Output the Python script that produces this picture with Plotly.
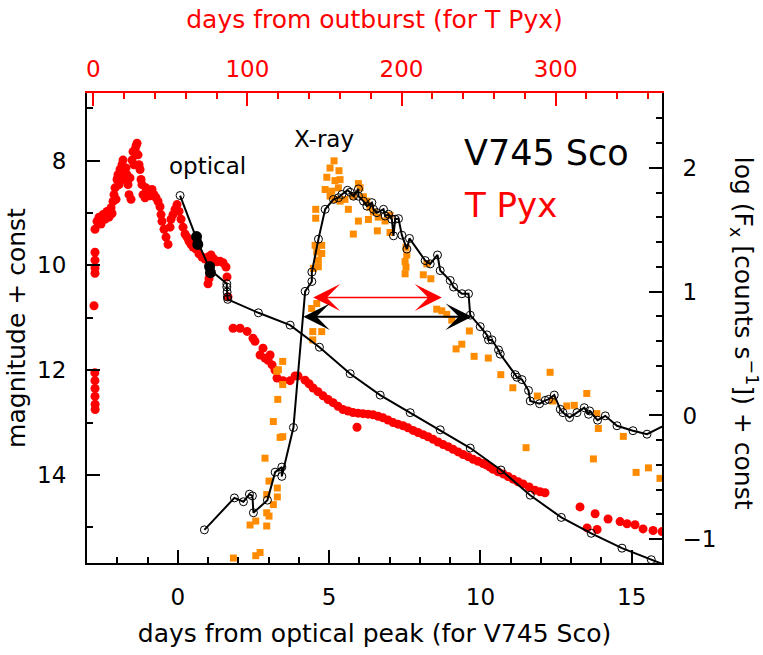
import plotly.graph_objects as go

# ---------------- data ----------------
# V745 Sco optical (days from optical peak, magnitude + const)
v745_opt_days = [0.076, 0.648, 1.068, 1.62, 1.62, 1.63, 1.64, 1.65, 2.664, 3.712, 4.681, 5.696,
                 6.688, 7.679, 8.671, 9.663, 10.678, 11.646, 12.671, 13.663, 14.678, 15.646, 16.64]
v745_opt_mag = [8.667, 9.532, 10.086, 10.351, 10.413, 10.508, 10.603, 10.648, 10.905, 11.140, 11.562,
                12.067, 12.476, 12.811, 13.138, 13.486, 13.905, 14.386, 14.810, 15.113, 15.397, 15.617, 15.84]
v745_opt_filled_days = [0.62, 0.66, 1.05, 1.08]
v745_opt_filled_mag = [9.45, 9.6, 10.02, 10.14]

# V745 Sco X-ray (days from optical peak, log Fx + const)
v745_x_days = [0.879, 1.871, 2.169, 2.367, 2.466, 2.499, 2.962, 3.217, 3.438, 3.438, 3.821, 4.208,
               4.430, 4.430, 4.648, 4.869, 5.144, 5.309, 5.421, 5.607, 5.696, 5.805, 5.970, 5.970,
               6.136, 6.248, 6.413, 6.466, 6.579, 6.797, 6.853, 6.962, 7.074, 7.127, 7.183, 7.293,
               7.405, 7.570, 7.656, 8.175, 8.341, 8.582, 8.671, 9.002, 9.111, 9.388, 9.607, 9.663,
               9.993, 10.215, 10.268, 10.380, 10.598, 10.655, 11.150, 11.207, 11.372, 11.590, 11.646,
               11.954, 12.142, 12.251, 12.440, 12.638, 12.727, 12.945, 13.190, 13.431, 13.574, 13.607,
               13.871, 14.126, 14.512, 15.041, 15.504, 16.4]
v745_x_log = [-0.924, -0.666, -0.697, -0.636, -0.650, -0.786, -0.684, -0.458, -0.417, -0.492, -0.097,
              1.003, 1.083, 1.159, 1.425, 1.666, 1.746, 1.760, 1.786, 1.820, 1.804, 1.772, 1.831, 1.772,
              1.732, 1.692, 1.720, 1.666, 1.639, 1.666, 1.612, 1.626, 1.586, 1.452, 1.586, 1.591,
              1.457, 1.345, 1.431, 1.252, 1.225, 1.297, 1.171, 1.091, 1.038, 0.984, 0.984, 0.811,
              0.718, 0.651, 0.611, 0.611, 0.530, 0.496, 0.330, 0.309, 0.290, 0.202, 0.117,
              0.095, 0.122, 0.130, 0.165, 0.050, 0.023, -0.017, 0.023, 0.063, 0.010, 0.037,
              -0.038, -0.003, -0.083, -0.123, -0.151, -0.04]

# T Pyx optical (days from outburst, magnitude + const)
tpyx_opt_days = [0.45, 1.0, 1.05, 1.1, 1.1, 1.15, 1.2, 1.1, 1.1, 1.1, 1.1,
                 1.10, 2.40, 3.70, 5.00, 6.30, 7.59, 8.89, 10.19, 11.49, 12.13, 12.78, 13.43, 14.08,
                 14.73, 15.38, 16.03, 16.68, 17.33, 17.98, 18.62, 19.27, 19.92, 20.57, 21.22, 21.87,
                 22.52, 23.17, 23.82, 24.47, 25.11, 25.76, 26.41, 27.06, 27.71, 28.36, 29.01, 29.66,
                 30.31, 30.95, 31.60, 32.25, 33.55, 34.20, 35.50, 36.79, 38.09, 39.39, 40.69, 41.99,
                 43.28, 43.93, 44.58, 45.88, 47.18, 48.48, 49.77, 50.42, 51.72, 53.02, 54.32, 55.61,
                 56.91, 58.21, 59.51, 60.80, 62.10, 63.40, 64.70, 66.65, 68.59, 70.54, 72.48, 74.43,
                 76.38, 78.33, 80.27, 82.22, 84.17, 86.11, 86.76, 74.43, 75.08, 87.41,
                 90.7, 95.2, 99.8, 103.6, 104.9, 108.2, 110.1, 111.4, 113.4, 114.7, 116.0, 117.9,
                 119.2, 123.1, 127.7, 130.9, 132.8, 137.4, 140.0, 142.6, 145.8, 149.1, 152.3, 155.6,
                 158.8, 162.0, 165.3, 168.5, 171.8, 175.0, 178.3, 181.5, 184.8, 188.0, 191.2, 194.5,
                 197.7, 201.0, 204.2, 207.5, 210.7, 214.0, 217.2, 220.5, 223.7, 227.0, 230.2, 233.4,
                 236.7, 239.9, 243.2, 246.4, 249.6, 252.9, 255.2, 257.4, 259.4, 262.6, 265.9, 269.1,
                 272.4, 275.6, 278.9, 282.8, 286.6, 289.9, 293.1, 171.1,
                 315.8, 320.4, 325.6, 326.9, 334.0, 341.8, 346.3, 351.5, 356.7, 363.2, 369.0]
tpyx_opt_mag = [10.77, 12.05, 12.2, 12.35, 12.5, 12.65, 12.75, 9.75, 9.9, 10.05, 10.15,
                9.31, 9.16, 9.08, 9.21, 9.03, 9.12, 8.97, 9.08, 8.90, 9.01, 8.78, 8.65, 8.52,
                8.74, 8.36, 8.27, 8.46, 8.17, 8.33, 8.08, 7.99, 8.17, 8.36, 8.14, 8.27,
                8.46, 8.65, 8.33, 8.74, 7.99, 7.83, 8.08, 7.79, 7.72, 7.67, 7.89, 8.08,
                8.17, 8.36, 8.46, 8.65, 8.71, 8.52, 8.59, 8.67, 8.55, 8.65, 8.71, 8.78,
                8.88, 9.03, 9.16, 9.31, 9.46, 9.60, 9.27, 9.12, 9.03, 8.93, 8.84, 8.97,
                9.12, 9.27, 9.40, 9.46, 9.54, 9.60, 9.65, 9.69, 9.78, 9.84, 9.88, 9.84,
                9.80, 9.88, 9.93, 9.92, 9.95, 10.03, 10.22, 10.35, 10.25, 10.60,
                11.20, 11.20, 11.26, 11.39, 11.45, 11.71, 11.58, 11.77, 11.81, 11.71, 11.90, 12.00,
                12.15, 12.20, 12.20, 12.11, 12.11, 12.19, 12.26, 12.34, 12.41, 12.49, 12.56, 12.62,
                12.69, 12.75, 12.78, 12.81, 12.82, 12.83, 12.84, 12.85, 12.88, 12.91, 12.95, 13.00,
                13.03, 13.06, 13.10, 13.15, 13.19, 13.23, 13.27, 13.32, 13.37, 13.42, 13.46, 13.51,
                13.56, 13.61, 13.65, 13.70, 13.74, 13.78, 13.81, 13.85, 13.89, 13.94, 13.98, 14.03,
                14.08, 14.13, 14.17, 14.23, 14.29, 14.32, 14.34, 13.09,
                14.61, 15.01, 14.74, 15.04, 14.84, 14.89, 14.93, 14.95, 15.03, 15.06, 15.08]

# T Pyx X-ray (days from outburst, log Fx + const)
tpyx_x_days = [90.9, 105.4, 108.2, 101.7, 105.4, 112.5, 112.5, 114.0, 116.8, 119.4, 112.5, 114.0,
               119.4, 111.4, 116.8, 119.7, 119.0, 121.2, 122.9, 122.9, 122.9, 120.1, 142.4, 148.2,
               142.4, 141.7, 145.0, 156.2, 153.6, 159.4, 151.5, 160.1, 156.8, 150.4, 154.7, 159.0,
               172.0, 173.1, 153.6, 156.8, 160.1, 163.3, 168.7, 175.2, 177.4, 165.5, 144.3, 144.3,
               179.6, 181.7, 172.0, 178.5, 184.9, 189.3, 184.3, 168.7, 192.5, 192.5, 143.9, 148.2,
               145.0, 148.2, 146.0, 142.8, 146.0, 202.9, 203.4, 202.3, 202.9, 202.3, 214.1, 219.0,
               216.4, 222.8, 226.1, 229.3, 232.6, 244.0, 239.1, 235.4, 247.1, 256.3, 264.4, 272.2,
               296.4, 288.1, 298.1, 307.2, 312.1, 320.2, 326.7, 327.7, 343.9, 280.8, 324.5, 352.2,
               360.2, 367.7]
tpyx_x_log = [-1.152, -1.133, -1.107, -0.885, -0.853, -0.893, -0.786, -0.813, -0.720, -0.658, -0.639,
              -0.530, -0.586, -0.345, -0.049, 0.130, 0.357, -0.177, -0.171, 0.250, 0.437, 0.370,
              0.678, 0.678, 0.611, 0.865, 0.905, 2.058, 2.000, 1.978, 1.925, 1.906, 1.898, 1.826,
              1.813, 1.840, 1.874, 1.840, 1.773, 1.746, 1.732, 1.746, 1.773, 1.768, 1.732, 1.666,
              1.666, 1.594, 1.683, 1.644, 1.571, 1.584, 1.603, 1.572, 1.492, 1.466, 1.479, 1.618,
              1.375, 1.375, 1.322, 1.309, 1.255, 1.189, 1.202, 1.359, 1.297, 1.244, 1.199, 1.145,
              1.137, 1.105, 1.225, 0.859, 0.846, 0.817, 0.771, 0.683, 0.576, 0.538, 0.478, 0.464,
              0.330, 0.224, 0.349, 0.157, 0.117, 0.077, 0.082, 0.178, 0.015, -0.105, -0.169, -0.260,
              -0.351, -0.460, -0.423, -0.508]

# duration arrows (supersoft phase widths)
tpyx_arrow_days = [141.7, 226.1]
tpyx_arrow_log = 0.953
v745_arrow_days = [4.10, 9.72]
v745_arrow_log = 0.798

FONT = "DejaVu Sans"
RED = "#ff0000"
ORANGE = "#ff8c00"

fig = go.Figure()

# main subplot: x (top, T Pyx days) / y (left, magnitude)
fig.add_trace(go.Scatter(x=tpyx_opt_days, y=tpyx_opt_mag, xaxis="x", yaxis="y", mode="markers",
                         marker=dict(color=RED, size=9, line=dict(width=0)), showlegend=False,
                         hoverinfo="skip"))
fig.add_trace(go.Scatter(x=tpyx_x_days, y=tpyx_x_log, xaxis="x", yaxis="y2", mode="markers",
                         marker=dict(color=ORANGE, size=7, symbol="square", line=dict(width=0)),
                         showlegend=False, hoverinfo="skip"))
fig.add_trace(go.Scatter(x=v745_opt_days, y=v745_opt_mag, xaxis="x2", yaxis="y", mode="lines+markers",
                         line=dict(color="black", width=2),
                         marker=dict(symbol="circle-open", size=8, color="black", line=dict(width=1)),
                         showlegend=False, hoverinfo="skip"))
fig.add_trace(go.Scatter(x=v745_opt_filled_days, y=v745_opt_filled_mag, xaxis="x2", yaxis="y",
                         mode="markers", marker=dict(color="black", size=11), showlegend=False,
                         hoverinfo="skip"))
fig.add_trace(go.Scatter(x=v745_x_days, y=v745_x_log, xaxis="x2", yaxis="y2", mode="lines+markers",
                         line=dict(color="black", width=2),
                         marker=dict(symbol="circle-open", size=8, color="black", line=dict(width=1)),
                         showlegend=False, hoverinfo="skip"))

XR = [-3, 16]
X2R = [-4.1, 369]
YR = [15.68, 6.71]
Y2R = [-1.192, 2.606]

tickfont = dict(family=FONT, size=23, color="black")
common = dict(showgrid=False, zeroline=False, showline=True, linewidth=2, ticks="inside",
              tickwidth=2, ticklen=13)

fig.update_layout(
    width=763, height=655,
    margin=dict(l=87, r=101, t=93, b=88),
    paper_bgcolor="white", plot_bgcolor="rgba(0,0,0,0)",
    font=dict(family=FONT, color="black"),
    xaxis=dict(range=X2R, side="top", anchor="y", linecolor=RED, tickcolor=RED,
               dtick=100, tick0=0, tickfont=dict(family=FONT, size=23, color=RED),
               ticklabelstandoff=5,
               minor=dict(dtick=20, ticks="inside", ticklen=6, tickwidth=2, tickcolor=RED),
               title=dict(text="days from outburst (for T Pyx)",
                          font=dict(family=FONT, size=25, color=RED), standoff=20),
               **common),
    xaxis2=dict(range=XR, side="bottom", overlaying="x", anchor="y", linecolor="black",
                tickcolor="black", dtick=5, tick0=0, tickfont=tickfont, ticklabelstandoff=12,
                minor=dict(dtick=1, ticks="inside", ticklen=6, tickwidth=2, tickcolor="black"),
                title=dict(text="days from optical peak (for V745 Sco)",
                           font=dict(family=FONT, size=25, color="black"), standoff=16),
                **common),
    yaxis=dict(range=YR, side="left", anchor="x", linecolor="black", tickcolor="black",
               dtick=2, tick0=0, tickfont=tickfont, ticklabelstandoff=14,
               minor=dict(dtick=1, ticks="inside", ticklen=6, tickwidth=2, tickcolor="black"),
               title=dict(text="magnitude + const",
                          font=dict(family=FONT, size=25, color="black"), standoff=4),
               **common),
    yaxis2=dict(range=Y2R, side="right", overlaying="y", anchor="x", linecolor="black",
                tickcolor="black", dtick=1, tick0=0, tickfont=tickfont, ticklabelstandoff=14,
                minor=dict(dtick=0.2, ticks="inside", ticklen=6, tickwidth=2, tickcolor="black"),
                **common),
)

annotations = [
    dict(text="optical", x=0.2088, y=0.8443, xref="paper", yref="paper", showarrow=False,
         xanchor="center", yanchor="middle", font=dict(family=FONT, size=23, color="black")),
    dict(text="X-ray", x=0.4127, y=0.9023, xref="paper", yref="paper", showarrow=False,
         xanchor="center", yanchor="middle", font=dict(family=FONT, size=23, color="black")),
    dict(text="V745 Sco", x=0.6525, y=0.8728, xref="paper", yref="paper", showarrow=False,
         xanchor="left", yanchor="middle", font=dict(family=FONT, size=35, color="black")),
    dict(text="T Pyx", x=0.6525, y=0.761, xref="paper", yref="paper", showarrow=False,
         xanchor="left", yanchor="middle", font=dict(family=FONT, size=34, color=RED)),
    dict(text="log (F<sub>x</sub> [counts s<sup>−1</sup>]) + const", x=1.1415, y=0.489,
         xref="paper", yref="paper", showarrow=False, textangle=90, xanchor="center",
         yanchor="middle", font=dict(family=FONT, size=25, color="black")),
    dict(x=tpyx_arrow_days[1], y=tpyx_arrow_log, ax=tpyx_arrow_days[0], ay=tpyx_arrow_log,
         xref="x", yref="y2", axref="x", ayref="y2", text="", showarrow=True,
         arrowhead=3, startarrowhead=3, arrowside="end+start", arrowsize=3, startarrowsize=3,
         arrowwidth=1.5, arrowcolor=RED, standoff=0, startstandoff=0),
    dict(x=v745_arrow_days[1], y=v745_arrow_log, ax=v745_arrow_days[0], ay=v745_arrow_log,
         xref="x2", yref="y2", axref="x2", ayref="y2", text="", showarrow=True,
         arrowhead=3, startarrowhead=3, arrowside="end+start", arrowsize=2.2, startarrowsize=2.2,
         arrowwidth=2, arrowcolor="black", standoff=0, startstandoff=0),
]
fig.update_layout(annotations=annotations)

fig.write_html("out.html", config={"displayModeBar": False},
               post_script="document.body.style.margin='0';")
